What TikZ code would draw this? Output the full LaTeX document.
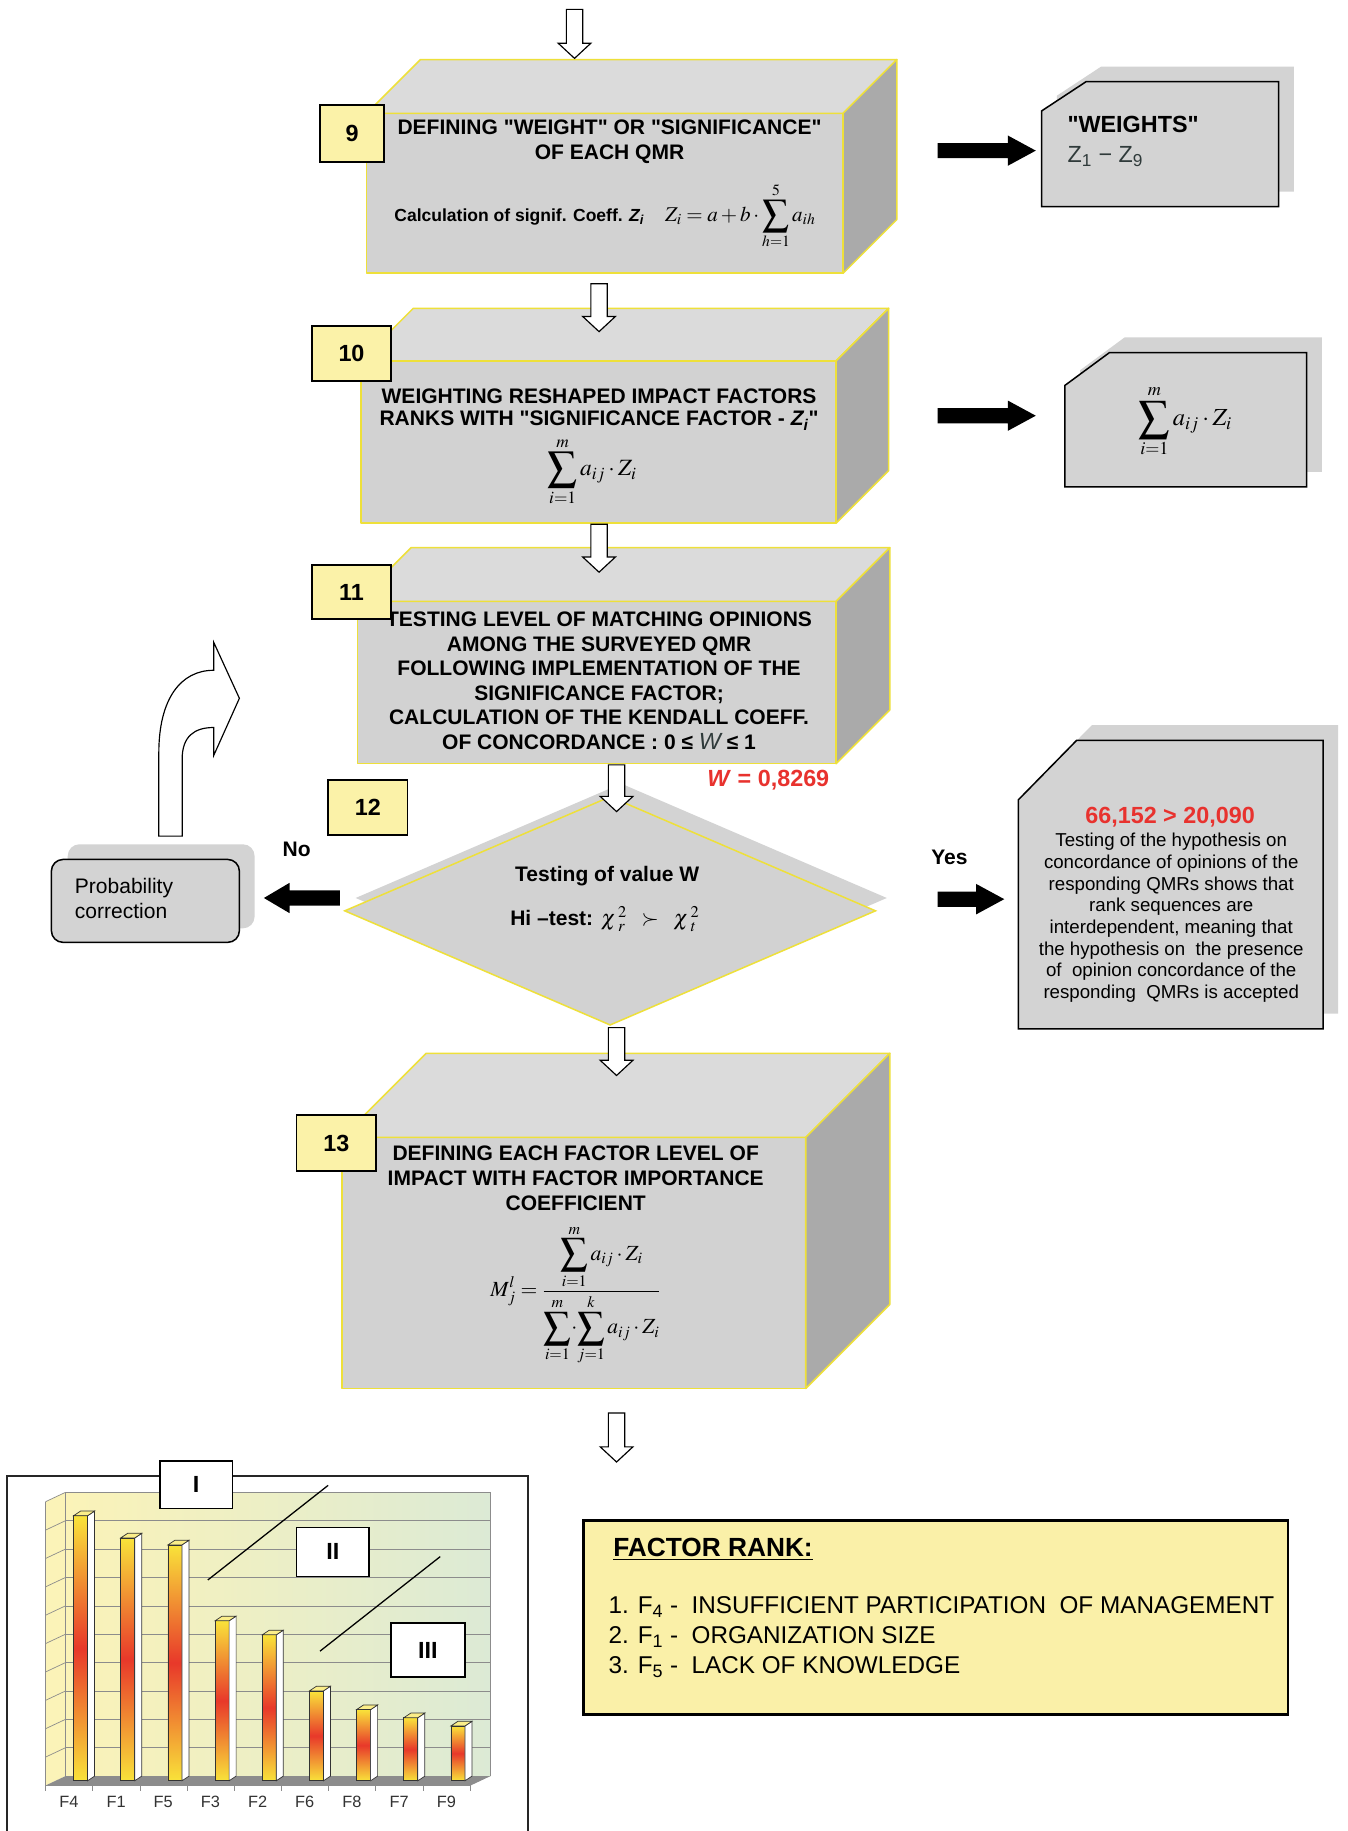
\documentclass[tikz,border=0pt]{standalone}
\usepackage{graphicx}
\usepackage{mathptmx}
\usepackage[no-math]{fontspec}
\setmainfont{Liberation Sans}[Ligatures=TeXOff]
\usetikzlibrary{calc,shapes.geometric}
\definecolor{boxyellow}{HTML}{EEE03A}
\definecolor{frontgray}{HTML}{D2D2D2}
\definecolor{topgray}{HTML}{DBDBDB}
\definecolor{sidegray}{HTML}{AAAAAA}
\definecolor{labelyellow}{HTML}{FBF2A8}
\definecolor{calloutgray}{HTML}{D3D3D3}
\definecolor{wred}{HTML}{E8322E}
\definecolor{rankyellow}{HTML}{FAF0A8}
\definecolor{wallyellow}{HTML}{FBF3B8}
\definecolor{wallgreen}{HTML}{DCEAD5}
\definecolor{baryellow}{HTML}{F9E33A}
\definecolor{barred}{HTML}{E8382A}
\definecolor{floorgray}{HTML}{8C8C8C}
\definecolor{zgray}{HTML}{2F3A3A}
\newcommand\BigSum{\mathop{\vcenter{\hbox{\scalebox{1.8}{$\textstyle\sum$}}}}\limits}
\newcommand\cuboid[6]{%
  \node[frontface, minimum width=#4pt, minimum height=#5pt] (#1) at (#2,#3) {};
  \draw[face, fill=topgray] (#1.north west) -- ++(#6,-#6) -- ++(#4,0) -- (#1.north east) -- cycle;
  \draw[face, fill=sidegray] (#1.north east) -- ++(#6,-#6) -- ++(0,#5) -- (#1.south east) -- cycle;}
\newcommand\hollowdown[2]{%
  \draw[hollow] ($(#1)+(-7,0)$) -- ($(#1)+(7,0)$) -- ($(#2)+(7,-13)$) -- ($(#2)+(14,-13)$) -- (#2)
    -- ($(#2)+(-14,-13)$) -- ($(#2)+(-7,-13)$) -- cycle;}
\newcommand\blockright[2]{%
  \fill[black] ($(#1)+(0,-6.5)$) -- ($(#2)+(-24,-6.5)$) -- ($(#2)+(-24,-13)$) -- (#2)
    -- ($(#2)+(-24,13)$) -- ($(#2)+(-24,6.5)$) -- ($(#1)+(0,6.5)$) -- cycle;}
\newcommand\blockleft[2]{%
  \fill[black] ($(#1)+(0,-6.5)$) -- ($(#2)+(22,-6.5)$) -- ($(#2)+(22,-13)$) -- (#2)
    -- ($(#2)+(22,13)$) -- ($(#2)+(22,6.5)$) -- ($(#1)+(0,6.5)$) -- cycle;}
\begin{document}
\begin{tikzpicture}[x=1pt,y=-1pt,
  face/.style={draw=boxyellow, line width=1.3pt, line join=round},
  frontface/.style={face, fill=frontgray, inner sep=0pt, outer sep=0pt},
  numlabel/.style={draw=black, line width=1.4pt, fill=labelyellow, inner sep=0pt, outer sep=0pt,
    font=\bfseries\fontsize{20}{24}\selectfont},
  hollow/.style={draw=black, fill=white, line width=1pt, line join=miter},
  boxtitle/.style={align=center, inner sep=0pt, font=\bfseries\fontsize{18}{21}\selectfont},
  callout/.style={draw=black, line width=1.3pt, fill=calloutgray, line join=miter},
  shadowfill/.style={fill=calloutgray},
  plain/.style={inner sep=0pt, font=\fontsize{18}{21}\selectfont},
  boldlbl/.style={inner sep=0pt, font=\bfseries\fontsize{18}{21}\selectfont},
  grid/.style={draw=black!45, line width=0.6pt},
  barline/.style={draw=black!80, line width=0.6pt},
  axislabel/.style={inner sep=0pt, text=black!80, font=\fontsize{14}{16}\selectfont},
  romanbox/.style={draw=black, line width=1.3pt, fill=white, inner sep=0pt, outer sep=0pt,
    font=\bfseries\fontsize{20}{24}\selectfont}]
\useasboundingbox (0,0) rectangle (1154,1568);
\fill[white] (0,0) rectangle (1154,1568);

% ---------- 3D process boxes ----------
\cuboid{b9}{518}{165.5}{408}{137}{46}
\cuboid{b10}{512.5}{378.5}{407}{139}{45}
\cuboid{b11}{511}{584.5}{410}{139}{46}
\cuboid{b13}{491.5}{1081.5}{397}{215}{72}

% ---------- side callouts ----------
\fill[shadowfill] (905,82) -- (943,57) -- (1108,57) -- (1108,164) -- (905,164) -- cycle;
\draw[callout] (892,95) -- (930,70) -- (1095,70) -- (1095,177) -- (892,177) -- cycle;
\fill[shadowfill] (925,317) -- (963,289) -- (1132,289) -- (1132,404) -- (925,404) -- cycle;
\draw[callout] (912,330) -- (950,302) -- (1119,302) -- (1119,417) -- (912,417) -- cycle;
\fill[shadowfill] (885,672) -- (935,621) -- (1146,621) -- (1146,868) -- (885,868) -- cycle;
\draw[callout] (872,685) -- (922,634) -- (1133,634) -- (1133,881) -- (872,881) -- cycle;
\fill[shadowfill, rounded corners=10pt] (58,723) rectangle (218,795);
\draw[callout, rounded corners=10pt] (44,736) rectangle (205,807);

% ---------- decision diamond ----------
\node[diamond, fill=calloutgray, inner sep=0pt, minimum width=455pt, minimum height=196pt] (d12s) at (532,769) {};
\node[diamond, draw=boxyellow, fill=frontgray, line width=1.3pt, inner sep=0pt,
  minimum width=455pt, minimum height=196pt] (d12) at (522.5,780) {};

% ---------- texts ----------
\node[boxtitle] (t9) at (522,121.5) {DEFINING "WEIGHT" OR "SIGNIFICANCE"\\OF EACH QMR};
\node[inner sep=0pt, font=\fontsize{18}{21}\selectfont] (f9) at (518,185)
  {{\bfseries\fontsize{15}{18}\selectfont Calculation of signif. Coeff. \textit{Z\textsubscript{i}}}\quad
   $\displaystyle Z_i = a + b\cdot\BigSum_{h=1}^{5} a_{ih}$};
\node[boxtitle, font=\bfseries\fontsize{18}{19.5}\selectfont] (t10) at (513,350.5)
  {WEIGHTING RESHAPED IMPACT FACTORS\\RANKS WITH "SIGNIFICANCE FACTOR - \textit{Z\textsubscript{i}}"};
\node[inner sep=0pt, font=\fontsize{20}{24}\selectfont] (f10) at (507,404) {$\displaystyle\BigSum_{i=1}^{m} a_{ij}\cdot Z_i$};
\node[boxtitle] (t11) at (513,583)
  {TESTING LEVEL OF MATCHING OPINIONS\\AMONG THE SURVEYED QMR\\FOLLOWING IMPLEMENTATION OF THE\\
   SIGNIFICANCE FACTOR;\\CALCULATION OF THE KENDALL COEFF.\\
   OF CONCORDANCE : 0 ≤ {\mdseries\itshape\fontsize{20}{21}\selectfont\color{zgray}W} ≤ 1};
\node[inner sep=0pt, text=wred, font=\bfseries\fontsize{20}{24}\selectfont] (wval) at (658,668) {\textit{W} = 0,8269};
\node[boldlbl] (t12a) at (520,750) {Testing of value W};
\node[boldlbl] (t12b) at (518,787) {Hi –test: {\mdseries\fontsize{19}{22}\selectfont$\chi\,{}^{2}_{r}\;\;\succ\;\;\chi\,{}^{2}_{t}$}};
\node[boldlbl] (no) at (254,727) {No};
\node[boldlbl] (yes) at (813,734) {Yes};
\node[plain, anchor=west, align=left] (prob) at (64,769.5) {Probability\\correction};
\node[inner sep=0pt, anchor=west, font=\bfseries\fontsize{20}{24}\selectfont] (wt) at (914,107) {"WEIGHTS"};
\node[inner sep=0pt, anchor=west, text=zgray, font=\fontsize{20}{24}\selectfont] (wz) at (914,134)
  {Z\textsubscript{1} − Z\textsubscript{9}};
\node[inner sep=0pt, font=\fontsize{21}{25}\selectfont] (fsum) at (1015,361) {$\displaystyle\BigSum_{i=1}^{m} a_{ij}\cdot Z_i$};
\node[inner sep=0pt, text=wred, font=\bfseries\fontsize{20}{24}\selectfont] (resval) at (1002,700) {66,152 > 20,090};
\node[inner sep=0pt, align=center, font=\fontsize{16}{18.6}\selectfont] (res) at (1003,786)
  {Testing of the hypothesis on\\concordance of opinions of the\\responding QMRs shows that\\rank sequences are\\
   interdependent, meaning that\\the hypothesis on\ \ the presence\\of\ \ opinion concordance of the\\responding\ \ QMRs is accepted};
\node[boxtitle] (t13) at (493,1009) {DEFINING EACH FACTOR LEVEL OF\\IMPACT WITH FACTOR IMPORTANCE\\COEFFICIENT};
\node[inner sep=0pt, font=\fontsize{18.5}{22}\selectfont] (f13) at (493,1109)
  {$\displaystyle M_j^{l} = \frac{\displaystyle\BigSum_{i=1}^{m} a_{ij}\cdot Z_i}{\displaystyle\BigSum_{i=1}^{m}\!\cdot\!\BigSum_{j=1}^{k} a_{ij}\cdot Z_i}$};

% ---------- step number labels ----------
\node[numlabel, minimum width=55pt, minimum height=49pt] (n9) at (301.5,114.5) {9};
\node[numlabel, minimum width=68pt, minimum height=47pt] (n10) at (301,302.5) {10};
\node[numlabel, minimum width=68pt, minimum height=46pt] (n11) at (301,507) {11};
\node[numlabel, minimum width=68pt, minimum height=47pt] (n12) at (315,691.5) {12};
\node[numlabel, minimum width=68pt, minimum height=48pt] (n13) at (288,979) {13};

% ---------- flow arrows ----------
\coordinate (a0s) at (492,8);    \coordinate (a0e) at (492,50);
\coordinate (a1s) at (513,243);  \coordinate (a1e) at (513,284);
\coordinate (a2s) at (513,449);  \coordinate (a2e) at (513,490);
\coordinate (a3s) at (528,655);  \coordinate (a3e) at (528,695);
\coordinate (a4s) at (528,880);  \coordinate (a4e) at (528,921);
\coordinate (a5s) at (528,1210); \coordinate (a5e) at (528,1252);
\hollowdown{a0s}{a0e}
\hollowdown{a1s}{a1e}
\hollowdown{a2s}{a2e}
\hollowdown{a3s}{a3e}
\hollowdown{a4s}{a4e}
\hollowdown{a5s}{a5e}
\coordinate (r1s) at (803,129); \coordinate (r1e) at (887,129);
\coordinate (r2s) at (803,356); \coordinate (r2e) at (887,356);
\coordinate (r3s) at (803,770); \coordinate (r3e) at (860,770);
\coordinate (l1s) at (291,769); \coordinate (l1e) at (226,769);
\blockright{r1s}{r1e}
\blockright{r2s}{r2e}
\blockright{r3s}{r3e}
\blockleft{l1s}{l1e}
\draw[hollow] (136,716) -- (136,645) .. controls (136,598) and (155,574) .. (183,574) -- (183,550)
  -- (205,598) -- (183,647) -- (183,623) .. controls (166,623) and (156,631) .. (156,650) -- (156,716) -- cycle;

% ---------- bar chart ----------
\draw[line width=1.2pt, draw=black!85] (6,1575) -- (6,1264) -- (452,1264) -- (452,1575);
\shade[left color=wallyellow, right color=wallgreen] (56,1278) rectangle (420,1521);
\fill[wallyellow] (39,1286) -- (56,1278) -- (56,1521) -- (39,1529) -- cycle;
\fill[floorgray] (39,1529) -- (56,1521) -- (420,1521) -- (403,1529) -- cycle;
\foreach \k in {0,...,9}{
  \draw[grid] (56,1278+24.3*\k) -- (420,1278+24.3*\k);
  \draw[grid] (39,1286+24.3*\k) -- (56,1278+24.3*\k);
}
\draw[grid] (39,1286) -- (39,1529);
\draw[grid] (56,1278) -- (56,1521);
\draw[grid] (420,1278) -- (420,1521);
\draw[grid] (39,1529) -- (403,1529);
\foreach \k in {0,...,9}{ \draw[grid] (39+40.4*\k,1529) -- ++(0,5); }
\draw[line width=1.1pt] (178,1353) -- (281,1272);
\draw[line width=1.1pt] (274,1414) -- (377,1333);
\foreach \nm/\lx/\tp in {F4/59/1298, F1/99.4/1317, F5/139.8/1323, F3/180.2/1388, F2/220.6/1400,
                        F6/261/1448, F8/301.4/1464, F7/341.8/1471, F9/382.2/1478}{
  \shade[top color=baryellow, bottom color=baryellow, middle color=barred] (\lx+4,\tp) rectangle (\lx+16,1525);
  \draw[barline] (\lx+4,\tp) rectangle (\lx+16,1525);
  \draw[barline, fill=white] (\lx+16,\tp) -- (\lx+22,\tp-4) -- (\lx+22,1521) -- (\lx+16,1525) -- cycle;
  \draw[barline, fill=baryellow!60] (\lx+4,\tp) -- (\lx+10,\tp-4) -- (\lx+22,\tp-4) -- (\lx+16,\tp) -- cycle;
  \node[axislabel] (lbl-\nm) at (\lx,1543) {\nm};
}
\node[romanbox, minimum width=62pt, minimum height=41pt] (rI) at (168,1271.5) {I};
\node[romanbox, minimum width=62pt, minimum height=42pt] (rII) at (285,1329) {II};
\node[romanbox, minimum width=63pt, minimum height=46pt] (rIII) at (366.5,1413) {III};

% ---------- factor rank ----------
\node[draw=black, line width=2.5pt, fill=rankyellow, minimum width=603pt, minimum height=166pt, inner sep=0pt] (rank) at (801.5,1385) {};
\node[inner sep=0pt, anchor=west, font=\bfseries\fontsize{22.5}{26}\selectfont] (ranktitle) at (525,1327) {\underline{FACTOR RANK:}};
\node[inner sep=0pt, anchor=west, align=left, font=\fontsize{20.8}{26}\selectfont] (rankitems) at (521,1402)
  {1. F\textsubscript{4} -\ \ INSUFFICIENT PARTICIPATION\ \ OF MANAGEMENT\\
   2. F\textsubscript{1} -\ \ ORGANIZATION SIZE\\
   3. F\textsubscript{5}\ -\ \ LACK OF KNOWLEDGE};
\end{tikzpicture}
\end{document}
